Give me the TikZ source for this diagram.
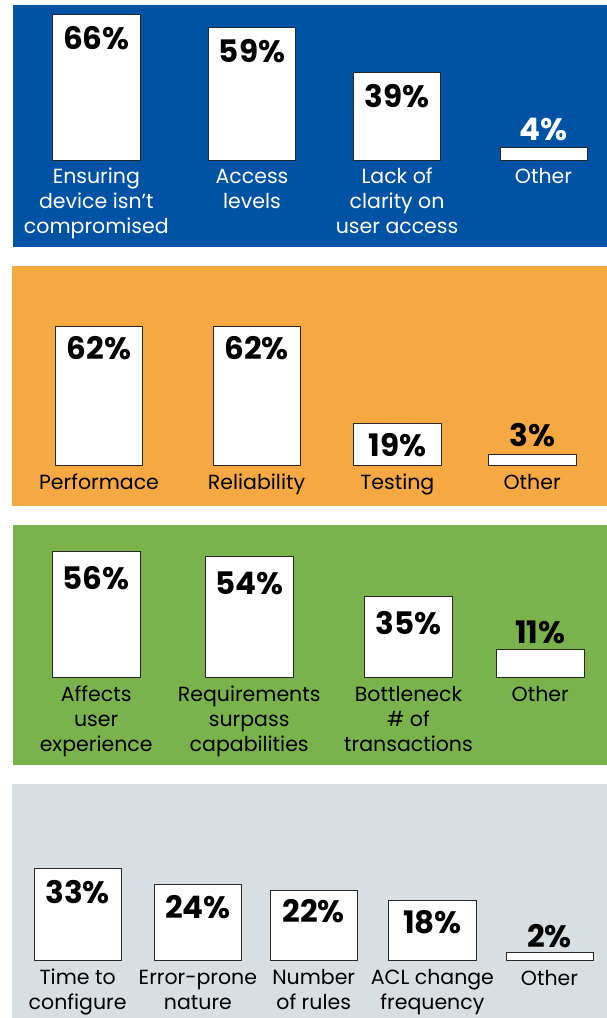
\documentclass[tikz,border=0pt]{standalone}
\usepackage{fontspec}
\setmainfont{Poppins}
\usetikzlibrary{fit}
\definecolor{pblue}{RGB}{0,83,164}
\definecolor{porange}{RGB}{246,169,66}
\definecolor{pgreen}{RGB}{122,178,76}
\definecolor{pgray}{RGB}{217,222,226}
\definecolor{bedge}{RGB}{40,40,40}
\begin{document}
\begin{tikzpicture}[x=1pt,y=-1pt,
  barbox/.style={draw=bedge, fill=white, line width=1pt, inner sep=0pt, outer sep=0pt},
  num/.style={font=\fontsize{31}{36}\selectfont\bfseries, inner sep=0pt, anchor=base},
  lab/.style={font=\fontsize{20.5}{25}\selectfont, align=center, inner sep=0pt, anchor=base},
  panel/.style={inner sep=0pt, outer sep=0pt, draw=none}]
\useasboundingbox (0,0) rectangle (607,1018);
\fill[white] (0,0) rectangle (607,1018);
% panels
\node[panel, fill=pblue,   fit={(12.5,5) (607,246.5)}] (p1) {};
\node[panel, fill=porange, fit={(12,266) (607,505.5)}] (p2) {};
\node[panel, fill=pgreen,  fit={(13,525) (607,764.5)}] (p3) {};
\node[panel, fill=pgray,   fit={(12,784) (607,1018)}] (p4) {};
% panel 1
\node[barbox, fit={(52.7,14) (140,160.5)}] (b11) {};
\node[barbox, fit={(208.5,27) (295.5,160.5)}] (b12) {};
\node[barbox, fit={(353.5,72.3) (440.7,160.5)}] (b13) {};
\node[barbox, fit={(500,147) (587,160.5)}] (b14) {};
\node[num] (n11) at ([yshift=-35pt]b11.north) {66\%};
\node[num] (n12) at ([yshift=-35pt]b12.north) {59\%};
\node[num] (n13) at ([yshift=-35pt]b13.north) {39\%};
\node[num, text=white] (n14) at ([yshift=7pt]b14.north) {4\%};
\node[lab, text=white] (l11) at ([yshift=-72.5pt]b11.south) {Ensuring\\device isn't\\compromised};
\node[lab, text=white] (l12) at ([yshift=-47.5pt]b12.south) {Access\\levels};
\node[lab, text=white] (l13) at ([yshift=-72.5pt]b13.south) {Lack of\\clarity on\\user access};
\node[lab, text=white] (l14) at ([yshift=-22.5pt]b14.south) {Other};
% panel 2
\node[barbox, fit={(55.3,326.7) (142.7,465.7)}] (b21) {};
\node[barbox, fit={(213,326.7) (300,465.7)}] (b22) {};
\node[barbox, fit={(353.7,423) (441,465.7)}] (b23) {};
\node[barbox, fit={(488.3,454.7) (576,465.7)}] (b24) {};
\node[num] (n21) at ([yshift=-33pt]b21.north) {62\%};
\node[num] (n22) at ([yshift=-33pt]b22.north) {62\%};
\node[num] (n23) at ([yshift=-33pt]b23.north) {19\%};
\node[num] (n24) at ([yshift=8pt]b24.north) {3\%};
\node[lab] (l21) at ([yshift=-23.5pt]b21.south) {Performace};
\node[lab] (l22) at ([yshift=-23.5pt]b22.south) {Reliability};
\node[lab] (l23) at ([yshift=-23.5pt]b23.south) {Testing};
\node[lab] (l24) at ([yshift=-23.5pt]b24.south) {Other};
% panel 3
\node[barbox, fit={(52.3,551.3) (140,677.3)}] (b31) {};
\node[barbox, fit={(205.4,556.7) (293,677.3)}] (b32) {};
\node[barbox, fit={(364.7,596.7) (452.3,677.3)}] (b33) {};
\node[barbox, fit={(496.5,649.3) (584,677.3)}] (b34) {};
\node[num] (n31) at ([yshift=-38pt]b31.north) {56\%};
\node[num] (n32) at ([yshift=-38pt]b32.north) {54\%};
\node[num] (n33) at ([yshift=-38pt]b33.north) {35\%};
\node[num] (n34) at ([yshift=6pt]b34.north) {11\%};
\node[lab] (l31) at ([yshift=-74pt]b31.south) {Affects\\user\\experience};
\node[lab] (l32) at ([yshift=-74pt]b32.south) {Requirements\\surpass\\capabilities};
\node[lab] (l33) at ([yshift=-74pt]b33.south) {Bottleneck\\\# of\\transactions};
\node[lab] (l34) at ([yshift=-24pt]b34.south) {Other};
% panel 4
\node[barbox, fit={(34,868.3) (121.3,960.5)}] (b41) {};
\node[barbox, fit={(154.3,884.3) (241.5,960.5)}] (b42) {};
\node[barbox, fit={(270,890) (357.4,960.5)}] (b43) {};
\node[barbox, fit={(388.8,900) (476,960.5)}] (b44) {};
\node[barbox, fit={(506,952) (593,960.5)}] (b45) {};
\node[num] (n41) at ([yshift=-35pt]b41.north) {33\%};
\node[num] (n42) at ([yshift=-34pt]b42.north) {24\%};
\node[num] (n43) at ([yshift=-32pt]b43.north) {22\%};
\node[num] (n44) at ([yshift=-33pt]b44.north) {18\%};
\node[num] (n45) at ([yshift=5pt]b45.north) {2\%};
\node[lab] (l41) at ([yshift=-48.5pt]b41.south) {Time to\\configure};
\node[lab] (l42) at ([yshift=-48.5pt]b42.south) {Error-prone\\nature};
\node[lab] (l43) at ([yshift=-48.5pt]b43.south) {Number\\of rules};
\node[lab] (l44) at ([yshift=-48.5pt]b44.south) {ACL change\\frequency};
\node[lab] (l45) at ([yshift=-24.5pt]b45.south) {Other};
\end{tikzpicture}
\end{document}
